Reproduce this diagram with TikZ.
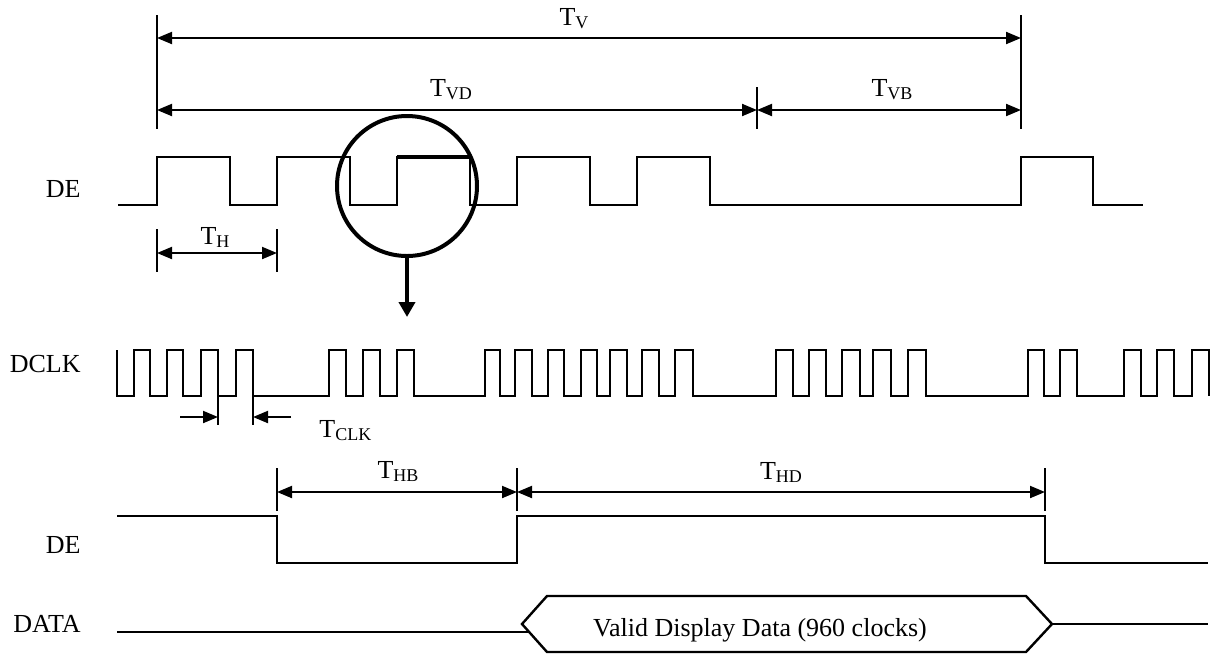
\documentclass[tikz,border=0pt]{standalone}
\usepackage{fontspec}
\setmainfont{Liberation Serif}
\usetikzlibrary{arrows.meta}
\tikzstyle{wave}=[line width=1.2pt]
\tikzstyle{dim}=[line width=1pt,{Triangle[length=7.5pt,width=6pt]}-{Triangle[length=7.5pt,width=6pt]}]
\tikzstyle{half}=[line width=1pt,-{Triangle[length=7.5pt,width=6pt]}]
\tikzstyle{tick}=[line width=0.6pt]
\tikzstyle{sig}=[anchor=east,inner sep=0pt]
\tikzstyle{tlab}=[inner sep=0pt]
\newcommand{\tsym}[1]{T\raisebox{-1.5pt}{\fontsize{9}{10}\selectfont #1}}

\begin{document}
\begin{tikzpicture}[x=0.5pt,y=-0.5pt,font=\fontsize{13}{15}\selectfont]
\useasboundingbox (0,0) rectangle (1216,655);
% signal names
\node[sig] (nde) at (81,189) {DE};
\node[sig] (nclk) at (81,364) {DCLK};
\node[sig] (nde2) at (81,545) {DE};
\node[sig] (ndata) at (81,624) {DATA};
% frame timing
\draw[tick] (157,15) -- (157,129);
\draw[tick] (1021,15) -- (1021,129);
\draw[tick] (757,87) -- (757,129);
\coordinate (v0) at (157,38);
\coordinate (v1) at (1021,38);
\coordinate (vd0) at (157,110);
\coordinate (vd1) at (757,110);
\coordinate (vb1) at (1021,110);
\draw[dim] (v0) -- (v1);
\draw[dim] (vd0) -- (vd1);
\draw[dim] (vd1) -- (vb1);
\node[tlab] (ltv) at (574,19) {\tsym{V}};
\node[tlab] (ltvd) at (451,90) {\tsym{VD}};
\node[tlab] (ltvb) at (892,90) {\tsym{VB}};
% DE, frame view
\draw[wave] (118,205) \foreach \a/\b in {157/230,277/350,397/470,517/590,637/710,1021/1093} { -- (\a,205) -- (\a,157) -- (\b,157) -- (\b,205) } -- (1143,205);
\draw[line width=2pt] (397,157) -- (470,157);
\draw[tick] (157,229) -- (157,272);
\draw[tick] (277,229) -- (277,272);
\coordinate (h0) at (157,253);
\coordinate (h1) at (277,253);
\draw[dim] (h0) -- (h1);
\node[tlab] (lth) at (215,237) {\tsym{H}};
% zoom circle
\node[circle,draw,line width=2pt,minimum size=70pt,inner sep=0pt] (zoom) at (407,186) {};
\coordinate (ztip) at (407,317);
\draw[line width=2pt,-{Triangle[length=7.5pt,width=8pt]}] (zoom.south) -- (ztip);
% DCLK
\draw[wave] (117,350) -- (117,396) \foreach \a/\b in {134/150,167/183,201/218,236/253,329/346,363/380,397/414,485/500,515/532,548/564,581/597,610/627,642/659,675/693,776/793,809/826,842/860,873/891,908/926,1028/1044,1060/1077,1124/1141,1157/1174,1192/1209} { -- (\a,396) -- (\a,350) -- (\b,350) -- (\b,396) };
\draw[tick] (218,396) -- (218,425);
\draw[tick] (253,396) -- (253,425);
\coordinate (c0) at (218,417);
\coordinate (c1) at (253,417);
\coordinate (ca) at (180,417);
\coordinate (cb) at (291,417);
\draw[half] (ca) -- (c0);
\draw[half] (cb) -- (c1);
\node[tlab,anchor=west] (ltclk) at (319,431) {\tsym{CLK}};
% DE, line view
\draw[wave] (117,516) -- (277,516) -- (277,563) -- (517,563) -- (517,516) -- (1045,516) -- (1045,563) -- (1208,563);
\draw[tick] (277,468) -- (277,511);
\draw[tick] (517,468) -- (517,511);
\draw[tick] (1045,468) -- (1045,511);
\coordinate (hb0) at (277,492);
\coordinate (hb1) at (517,492);
\coordinate (hd1) at (1045,492);
\draw[dim] (hb0) -- (hb1);
\draw[dim] (hb1) -- (hd1);
\node[tlab] (lthb) at (398,472) {\tsym{HB}};
\node[tlab] (lthd) at (781,472) {\tsym{HD}};
% DATA
\draw[line width=0.6pt] (117,632) -- (529,632);
\draw[wave] (522,624) -- (547,596) -- (1026,596) -- (1052,624) -- (1026,652) -- (547,652) -- cycle;
\draw[wave] (1052,624) -- (1208,624);
\node[tlab] (lvalid) at (760,630) {Valid Display Data (960 clocks)};
\end{tikzpicture}
\end{document}
